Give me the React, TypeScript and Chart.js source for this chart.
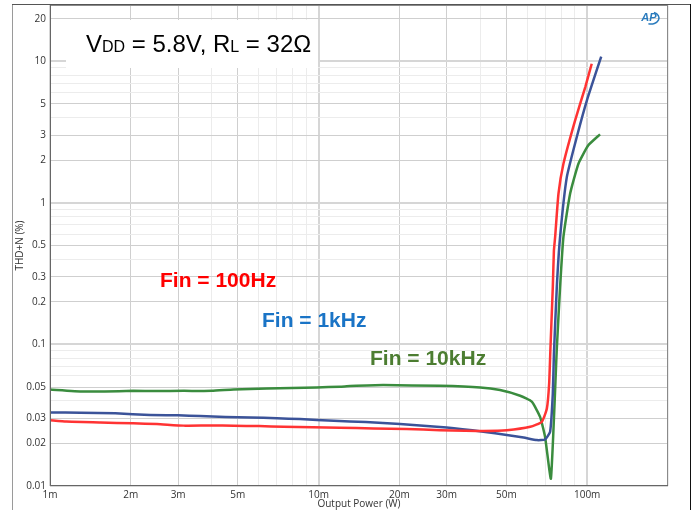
import React, { useEffect, useRef } from "react";
import { Chart, registerables } from "chart.js";

Chart.register(...registerables);

// ---- data ----
const redPower = [0.001, 0.00115, 0.00154, 0.00204, 0.0025, 0.00314, 0.004, 0.00482, 0.006, 0.0074, 0.0095, 0.012, 0.016, 0.0213, 0.0283, 0.035, 0.0411, 0.0502, 0.0614, 0.0678, 0.0708, 0.0722, 0.073, 0.0745, 0.0752, 0.076, 0.0782, 0.0816, 0.0902, 0.0984, 0.104];
const redThd = [0.0292, 0.0285, 0.0281, 0.0277, 0.0274, 0.0267, 0.0268, 0.0266, 0.0265, 0.0262, 0.026, 0.0258, 0.0255, 0.0253, 0.0248, 0.0246, 0.0245, 0.0248, 0.0262, 0.0284, 0.0353, 0.053, 0.094, 0.255, 0.46, 0.575, 1.16, 1.89, 3.83, 6.58, 9.62];

const bluePower = [0.001, 0.0013, 0.00175, 0.00236, 0.003, 0.00362, 0.0045, 0.00556, 0.007, 0.00853, 0.0114, 0.015, 0.0201, 0.03, 0.0411, 0.0502, 0.058, 0.065, 0.0697, 0.0728, 0.0745, 0.0752, 0.0771, 0.0793, 0.084, 0.0915, 0.0998, 0.1128];
const blueThd = [0.0331, 0.0329, 0.0326, 0.0317, 0.0316, 0.0312, 0.0307, 0.0305, 0.0301, 0.0297, 0.0289, 0.0283, 0.0274, 0.0259, 0.0242, 0.0229, 0.022, 0.0211, 0.0213, 0.0242, 0.045, 0.085, 0.255, 0.575, 1.52, 2.92, 5.3, 10.8];

const greenPower = [0.001, 0.00133, 0.0016, 0.00204, 0.0025, 0.00314, 0.004, 0.00482, 0.00641, 0.00984, 0.012, 0.0131, 0.0174, 0.0283, 0.04, 0.0474, 0.0563, 0.0622, 0.0668, 0.0697, 0.0733, 0.0771, 0.0793, 0.0816, 0.0864, 0.0928, 0.101, 0.1117];
const greenThd = [0.0481, 0.0465, 0.0465, 0.047, 0.0468, 0.047, 0.047, 0.0481, 0.0489, 0.0497, 0.0503, 0.0508, 0.0516, 0.051, 0.0497, 0.0476, 0.0434, 0.0394, 0.0308, 0.0223, 0.0113, 0.0937, 0.255, 0.575, 1.16, 1.89, 2.55, 3.05];

const seriesLabels = ["Fin = 100Hz", "Fin = 1kHz", "Fin = 10kHz"];

const xTickValues = [0.001, 0.002, 0.003, 0.004, 0.005, 0.006, 0.007, 0.008, 0.009, 0.01, 0.02, 0.03, 0.04, 0.05, 0.06, 0.07, 0.08, 0.09, 0.1, 0.2];
const xTickLabels = ["1m", "2m", "3m", "", "5m", "", "", "", "", "10m", "20m", "30m", "", "50m", "", "", "", "", "100m", ""];

const yTickValues = [0.01, 0.02, 0.03, 0.04, 0.05, 0.06, 0.07, 0.08, 0.09, 0.1, 0.2, 0.3, 0.4, 0.5, 0.6, 0.7, 0.8, 0.9, 1, 2, 3, 4, 5, 6, 7, 8, 9, 10, 20];
const yTickLabels = ["0.01", "0.02", "0.03", "", "0.05", "", "", "", "", "0.1", "0.2", "0.3", "", "0.5", "", "", "", "", "1", "2", "3", "", "5", "", "", "", "", "10", "20"];

const toPoints = (xs: number[], ys: number[]) => xs.map((x, i) => ({ x, y: ys[i] }));

const isDecade = (v: number) => Math.abs(Math.log10(v) - Math.round(Math.log10(v))) < 1e-6;

function gridColor(values: number[], labels: string[]) {
  return (ctx: any) => {
    const v = ctx.tick ? ctx.tick.value : null;
    if (v == null) return "#e0e0e0";
    const i = values.findIndex((t) => Math.abs(t - v) / t < 1e-6);
    if (i < 0) return "#eeeeee";
    if (isDecade(v)) return "#d6d6d6";
    return labels[i] ? "#cfcfcf" : "#ececec";
  };
}
function gridWidth(ctx: any) {
  const v = ctx.tick ? ctx.tick.value : null;
  if (v != null && isDecade(v)) return 2;
  return 1;
}

const decorPlugin = {
  id: "decor",
  beforeDatasetsDraw(chart: any) {
    const { ctx } = chart;
    ctx.save();
    // annotation box
    ctx.fillStyle = "#ffffff";
    ctx.fillRect(66, 20, 252, 48);
    ctx.fillStyle = "#000000";
    ctx.textBaseline = "alphabetic";
    ctx.textAlign = "left";
    const big = "24px 'Liberation Sans', Arial, sans-serif";
    const small = "16px 'Liberation Sans', Arial, sans-serif";
    const parts: [string, string][] = [["V", big], ["DD", small], [" = 5.8V, R", big], ["L", small], [" = 32Ω", big]];
    let x = 86;
    const base = 52;
    for (const [t, f] of parts) {
      ctx.font = f;
      ctx.fillText(t, x, base);
      x += ctx.measureText(t).width;
    }
    // series labels
    ctx.font = "bold 21px 'Liberation Sans', Arial, sans-serif";
    ctx.fillStyle = "#ff0000";
    ctx.fillText(seriesLabels[0], 160, 287);
    ctx.fillStyle = "#1a74c6";
    ctx.fillText(seriesLabels[1], 262, 327);
    ctx.fillStyle = "#4c7d31";
    ctx.fillText(seriesLabels[2], 370, 365);
    ctx.restore();
  },
  afterDraw(chart: any) {
    const { ctx, chartArea: a } = chart;
    ctx.save();
    // plot border
    ctx.lineWidth = 1;
    ctx.strokeStyle = "#8a8a8a";
    ctx.strokeRect(a.left + 0.5, a.top + 0.5, a.right - a.left - 1, a.bottom - a.top - 1);
    ctx.strokeStyle = "#666666";
    ctx.beginPath();
    ctx.moveTo(a.left + 0.5, a.top);
    ctx.lineTo(a.left + 0.5, a.bottom - 0.5);
    ctx.lineTo(a.right, a.bottom - 0.5);
    ctx.stroke();
    // outer frame
    ctx.strokeStyle = "#9a9a9a";
    ctx.beginPath();
    ctx.moveTo(12.5, 510);
    ctx.lineTo(12.5, 4.5);
    ctx.stroke();
    ctx.strokeStyle = "#555555";
    ctx.beginPath();
    ctx.moveTo(12, 4.5);
    ctx.lineTo(690, 4.5);
    ctx.stroke();
    ctx.strokeStyle = "#111111";
    ctx.beginPath();
    ctx.moveTo(690.5, 4);
    ctx.lineTo(690.5, 510);
    ctx.stroke();
    // AP logo
    ctx.strokeStyle = "#2a7bbd";
    ctx.fillStyle = "#2a7bbd";
    ctx.lineWidth = 1.5;
    ctx.beginPath();
    ctx.ellipse(651, 18, 8, 6, 0, -1.2, 1.9);
    ctx.stroke();
    ctx.font = "italic bold 11px 'Liberation Sans', Arial, sans-serif";
    ctx.textAlign = "center";
    ctx.textBaseline = "middle";
    ctx.fillText("AP", 649, 18);
    ctx.restore();
  },
};

export default function App() {
  const ref = useRef<HTMLCanvasElement | null>(null);
  useEffect(() => {
    document.body.style.margin = "0";
    if (!ref.current) return;
    const tickFont = { family: "'Open Sans', sans-serif", size: 10 };
    const chart = new Chart(ref.current, {
      type: "line",
      data: {
        datasets: [
          { label: seriesLabels[0], data: toPoints(redPower, redThd), borderColor: "#ff3333", borderWidth: 2.5, pointRadius: 0, tension: 0.15 },
          { label: seriesLabels[1], data: toPoints(bluePower, blueThd), borderColor: "#3b5399", borderWidth: 2.5, pointRadius: 0, tension: 0.15 },
          { label: seriesLabels[2], data: toPoints(greenPower, greenThd), borderColor: "#3a8c3e", borderWidth: 2.5, pointRadius: 0, tension: 0.15 },
        ],
      },
      options: {
        responsive: false,
        animation: false,
        layout: { padding: { left: 0, right: 28, top: 5, bottom: 0 } },
        plugins: { legend: { display: false }, tooltip: { enabled: false } },
        scales: {
          x: {
            type: "logarithmic",
            min: 0.001,
            max: 0.2,
            afterBuildTicks: (s: any) => {
              s.ticks = xTickValues.map((v) => ({ value: v }));
            },
            afterFit: (s: any) => {
              s.height = 24;
              s.paddingLeft = 0;
              s.paddingRight = 0;
            },
            ticks: {
              autoSkip: false,
              maxRotation: 0,
              padding: 3,
              color: "#333333",
              font: tickFont,
              callback: (_v: any, i: number) => xTickLabels[i],
            },
            grid: { color: gridColor(xTickValues, xTickLabels), lineWidth: gridWidth, drawTicks: false },
            border: { display: false },
            title: { display: true, text: "Output Power (W)", color: "#333333", font: tickFont, padding: 0 },
          },
          y: {
            type: "logarithmic",
            min: 0.01,
            max: 25,
            afterBuildTicks: (s: any) => {
              s.ticks = yTickValues.map((v) => ({ value: v }));
            },
            afterFit: (s: any) => {
              s.width = 50;
              s.paddingTop = 0;
              s.paddingBottom = 0;
            },
            ticks: {
              autoSkip: false,
              padding: 4,
              color: "#333333",
              font: tickFont,
              callback: (_v: any, i: number) => yTickLabels[i],
            },
            grid: { color: gridColor(yTickValues, yTickLabels), lineWidth: gridWidth, drawTicks: false },
            border: { display: false },
            title: { display: true, text: "THD+N (%)", color: "#333333", font: tickFont, padding: { top: 14, bottom: 0 } },
          },
        },
      },
      plugins: [decorPlugin],
    } as any);
    return () => chart.destroy();
  }, []);
  return (
    <div style={{ width: 696, height: 510 }}>
      <canvas ref={ref} width={696} height={510} style={{ display: "block" }} />
    </div>
  );
}
